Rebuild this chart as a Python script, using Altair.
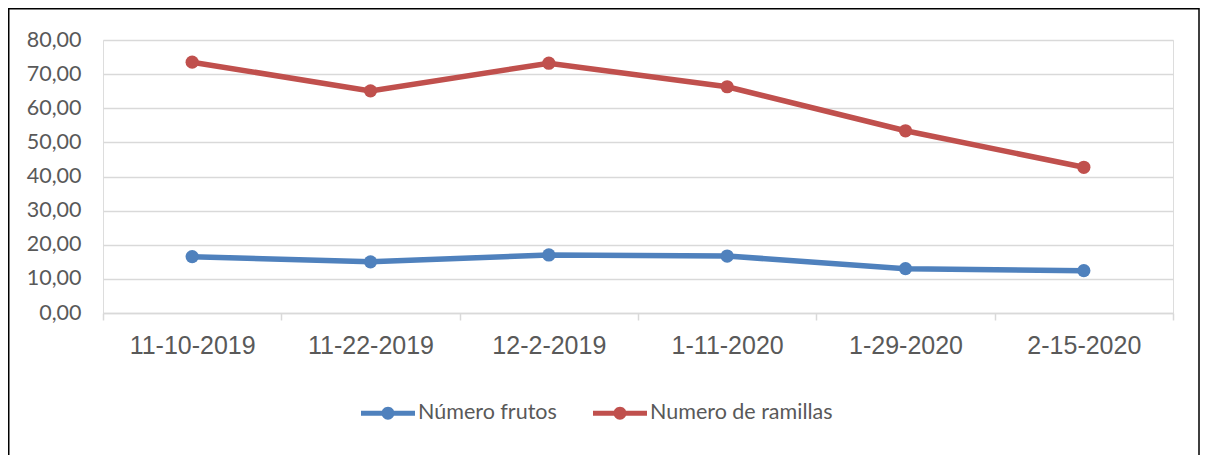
import altair as alt
import pandas as pd

fechas = ["11-10-2019", "11-22-2019", "12-2-2019", "1-11-2020", "1-29-2020", "2-15-2020"]
frutos = [16.5, 15.0, 17.0, 16.7, 13.0, 12.4]
ramillas = [73.5, 65.1, 73.2, 66.3, 53.4, 42.7]
series = ["Número frutos", "Numero de ramillas"]
colores = ["#4F81BD", "#C0504D"]
y_ticks = [0, 10, 20, 30, 40, 50, 60, 70, 80]

rows = []
for i, f in enumerate(fechas):
    rows.append({"fecha": f, "serie": series[0], "valor": frutos[i], "orden": 0})
    rows.append({"fecha": f, "serie": series[1], "valor": ramillas[i], "orden": 1})
df = pd.DataFrame(rows)

W, H = 1070, 273
PAD_L, PAD_T, PAD_R, PAD_B = 95, 32, 27, 142

sym_path = ("M-1,-0.09L1,-0.09L1,0.09L-1,0.09Z "
            "M-0.24,0A0.24,0.24,0,1,1,0.24,0A0.24,0.24,0,1,1,-0.24,0Z")

x_enc = alt.X("fecha:N", sort=fechas, bandPosition=0.5,
              scale=alt.Scale(type="band", paddingInner=0, paddingOuter=0),
              axis=alt.Axis(title=None, labelAngle=0, tickBand="extent",
                            labelFont="Liberation Sans", labelFontSize=25,
                            labelColor="#595959", labelPadding=13,
                            tickColor="#D9D9D9", tickSize=7, tickWidth=1.5,
                            domainColor="#D9D9D9", domainWidth=1.5, grid=False))
y_enc = alt.Y("valor:Q", scale=alt.Scale(domain=[0, 80], nice=False),
              axis=alt.Axis(title=None, values=y_ticks, ticks=False, domain=False,
                            labelFont="Lato", labelFontSize=21.5, labelColor="#595959",
                            labelPadding=22, gridColor="#D9D9D9", gridWidth=1.5,
                            labelExpr="replace(format(datum.value, '.2f'), '.', ',')"))
legend = alt.Legend(title=None, orient="none", direction="horizontal",
                    legendX=258, legendY=346, symbolType=sym_path, symbolSize=2916,
                    symbolStrokeWidth=0, labelFont="Lato", labelFontSize=21.5,
                    labelColor="#595959", labelOffset=3, columnPadding=36,
                    labelLimit=400)
color_enc = alt.Color("serie:N", scale=alt.Scale(domain=series, range=colores),
                      sort=series, legend=legend)

base = alt.Chart(df)
points = base.mark_point(filled=True, size=175, opacity=1).encode(
    x=x_enc, y=y_enc, color=color_enc)
lines = base.mark_line(strokeWidth=5.5).encode(
    x=x_enc, y=y_enc, color=color_enc, detail="serie:N", order="orden:Q")

frame = alt.Chart(pd.DataFrame({"a": [0]})).mark_rect(
    fill=None, stroke="#000000", strokeWidth=1.5).encode(
    x=alt.value(-PAD_L + 0.75), x2=alt.value(W + PAD_R - 1.0),
    y=alt.value(-PAD_T + 0.75), y2=alt.value(H + PAD_B + 20))

chart = alt.layer(frame, lines, points).properties(
    width=W, height=H,
    autosize=alt.AutoSizeParams(type="none"),
    padding={"left": PAD_L, "top": PAD_T, "right": PAD_R, "bottom": PAD_B},
).configure_view(stroke=None).configure(background="white")

chart.save("out.html", embed_options={"renderer": "svg", "actions": False})
